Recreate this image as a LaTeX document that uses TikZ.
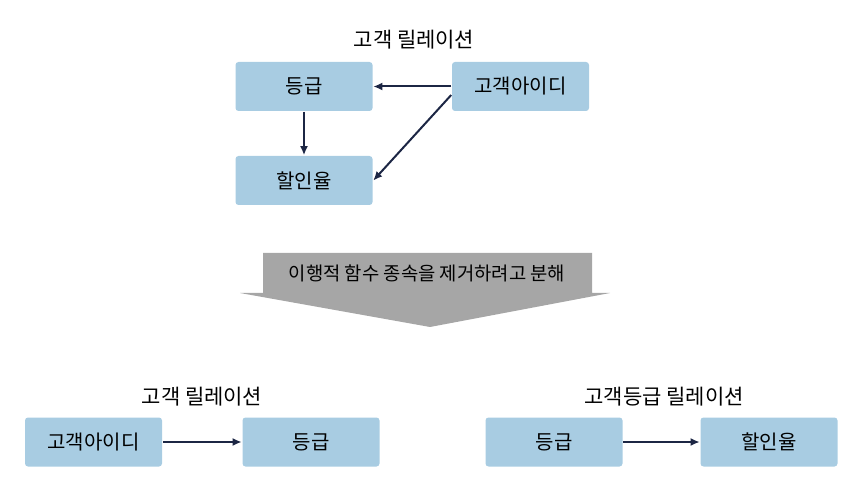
\documentclass[tikz,border=0pt]{standalone}
\usepackage{fontspec}
\setmainfont{Noto Sans CJK KR}
\usepackage{tikz}
\usetikzlibrary{arrows.meta}
\definecolor{boxblue}{RGB}{168,204,226}
\definecolor{arrowgray}{RGB}{166,166,166}
\definecolor{linknavy}{RGB}{28,38,68}
\tikzstyle{attr}=[rectangle, fill=boxblue, rounded corners=1.5pt, minimum width=68.5pt, minimum height=24.5pt, font=\fontsize{10}{12}\selectfont]
\tikzstyle{rel}=[font=\fontsize{10.5}{12}\selectfont]
\tikzstyle{dep}=[-{Latex[length=4.5pt, width=4pt]}, draw=linknavy, fill=linknavy, line width=1pt]

\begin{document}
\begin{tikzpicture}[x=0.5pt, y=0.5pt, thick]
                    \useasboundingbox (0, 0) rectangle (856, 482);
                    % top relation
                    \node[rel] (t) at (414, 442) {고객 릴레이션};
                    \node[attr] (g) at (304, 395.5) {등급};
                    \node[attr] (k) at (520.5, 395.5) {고객아이디};
                    \node[attr] (h) at (304, 301.5) {할인율};
                    \draw[dep] (k)--(g);
                    \draw[dep] (g)--(h);
                    \draw[dep] (k.187)--(h.east);
                    % decomposition arrow
                    \fill[arrowgray]
                        (263, 229) -- (592, 229) -- (592, 189) -- (610, 189)
                        -- (430, 155) -- (240, 189) -- (263, 189) -- cycle
                    ;
                    \node[font=\fontsize{9.4}{11}\selectfont] (d) at (427, 209) {이행적 함수 종속을 제거하려고 분해};
                    % bottom relations
                    \node[rel] (t1) at (202, 85) {고객 릴레이션};
                    \node[attr] (k1) at (93.5, 40) {고객아이디};
                    \node[attr] (g1) at (311, 40) {등급};
                    \node[rel] (t2) at (664, 85) {고객등급 릴레이션};
                    \node[attr] (g2) at (554, 40) {등급};
                    \node[attr] (h2) at (769, 40) {할인율};
                    \draw[dep] (k1)--(g1);
                    \draw[dep] (g2)--(h2);
                \end{tikzpicture}
\end{document}
